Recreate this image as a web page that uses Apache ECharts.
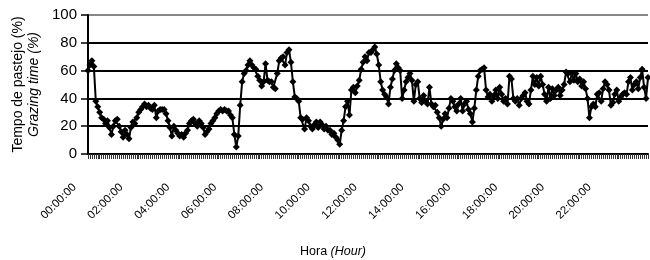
<!DOCTYPE html>
<html>
<head>
<meta charset="utf-8">
<script src="https://cdn.jsdelivr.net/npm/echarts@6/dist/echarts.min.js"></script>
<style>
  html, body { margin: 0; padding: 0; background: #fff; }
  #chart { width: 650px; height: 260px; }
</style>
</head>
<body>
<div id="chart"></div>
<script>
// grazing time (%) read every 5 min, 00:00:00 .. 23:55:00
const grazing = [
  60, 64, 67, 63, 38, 34, 30, 26, 25, 22,
  24, 19, 14, 20, 24, 25, 20, 16, 12, 17,
  14, 11, 19, 23, 22, 26, 30, 32, 34, 36,
  34, 35, 33, 32, 35, 26, 31, 32, 32, 32,
  29, 24, 19, 13, 20, 17, 15, 13, 14, 12,
  15, 17, 22, 24, 25, 22, 20, 24, 22, 19,
  14, 16, 18, 22, 24, 26, 29, 31, 32, 31,
  32, 31, 31, 28, 26, 14, 5, 13, 35, 52,
  58, 60, 64, 67, 64, 62, 61, 56, 53, 49,
  52, 65, 53, 52, 52, 48, 47, 58, 67, 69,
  70, 64, 73, 75, 66, 52, 41, 40, 38, 26,
  25, 18, 26, 24, 20, 18, 21, 23, 19, 23,
  21, 18, 20, 17, 17, 14, 15, 12, 10, 7,
  17, 24, 34, 38, 28, 46, 48, 44, 49, 53,
  61, 66, 70, 67, 73, 73, 75, 77, 72, 64,
  52, 46, 43, 41, 36, 48, 54, 60, 65, 62,
  60, 40, 46, 52, 55, 58, 53, 38, 50, 52,
  40, 37, 42, 38, 36, 48, 36, 34, 35, 30,
  26, 20, 25, 29, 26, 33, 40, 38, 34, 31,
  36, 40, 31, 36, 38, 32, 29, 23, 33, 46,
  56, 60, 61, 62, 46, 41, 43, 38, 42, 46,
  40, 48, 43, 38, 40, 36, 56, 54, 40, 38,
  40, 35, 40, 42, 44, 38, 36, 46, 56, 50,
  55, 49, 56, 50, 43, 38, 48, 40, 47, 42,
  46, 48, 42, 46, 50, 59, 58, 52, 58, 53,
  58, 52, 54, 49, 52, 47, 40, 26, 34, 36,
  34, 43, 44, 38, 47, 52, 50, 46, 35, 37,
  43, 46, 38, 41, 43, 44, 43, 52, 55, 46,
  50, 52, 47, 55, 61, 48, 40, 55
];

// category labels hh:mm:ss, one per 5 min
const hours = [];
for (let m = 0; m < 24 * 60; m += 5) {
  const h = String(Math.floor(m / 60)).padStart(2, '0');
  const mm = String(m % 60).padStart(2, '0');
  hours.push(h + ':' + mm + ':00');
}

const yTicks = { min: 0, max: 100, step: 20 };

const font = '"Liberation Sans", Arial, sans-serif';

const chart = echarts.init(document.getElementById('chart'));
const option = {
  animation: false,
  backgroundColor: '#fff',
  grid: { left: 88, right: 2, top: 15, bottom: 106 },
  xAxis: {
    type: 'category',
    data: hours,
    boundaryGap: false,
    axisLine: { lineStyle: { color: '#000', width: 2 } },
    axisTick: { interval: 0, length: 5, lineStyle: { color: '#333', width: 1 } },
    axisLabel: {
      interval: 23,
      rotate: 45,
      margin: 18,
      // trailing blanks: label ends a bit before its tick, like the original
      formatter: v => v + '\u00a0\u00a0\u00a0\u00a0\u00a0\u00a0',
      color: '#000',
      fontSize: 11.5,
      fontFamily: font
    },
    splitLine: { show: false }
  },
  yAxis: {
    type: 'value',
    min: yTicks.min,
    max: yTicks.max,
    interval: yTicks.step,
    name: '{a|Tempo de pastejo (%)}\n{b|Grazing time (%)}',
    nameLocation: 'middle',
    nameRotate: 90,
    nameGap: 46,
    nameTextStyle: {
      color: '#000',
      rich: {
        a: { fontSize: 14, fontFamily: font, color: '#000', lineHeight: 16 },
        b: { fontSize: 14, fontFamily: font, fontStyle: 'italic', color: '#000', lineHeight: 16 }
      }
    },
    axisLine: { show: true, lineStyle: { color: '#000', width: 2 } },
    axisTick: { show: true, length: 7, lineStyle: { color: '#000', width: 1.5 } },
    axisLabel: { margin: 11, color: '#000', fontSize: 15, fontFamily: font },
    splitLine: {
      show: true,
      lineStyle: { color: ['#000', '#000', '#000', '#000', '#000', '#888'], width: 2 }
    }
  },
  graphic: [{
    type: 'text',
    x: 333,
    y: 252,
    style: {
      text: '{a|Hora }{b|(Hour)}',
      align: 'center',
      verticalAlign: 'middle',
      rich: {
        a: { fontSize: 12.5, fontFamily: font, fill: '#000' },
        b: { fontSize: 12.5, fontFamily: font, fontStyle: 'italic', fill: '#000' }
      }
    }
  }],
  series: [{
    type: 'line',
    data: grazing,
    symbol: 'diamond',
    symbolSize: 7,
    showAllSymbol: true,
    lineStyle: { color: '#000', width: 2 },
    itemStyle: { color: '#000' }
  }]
};
chart.setOption(option);
</script>
</body>
</html>
